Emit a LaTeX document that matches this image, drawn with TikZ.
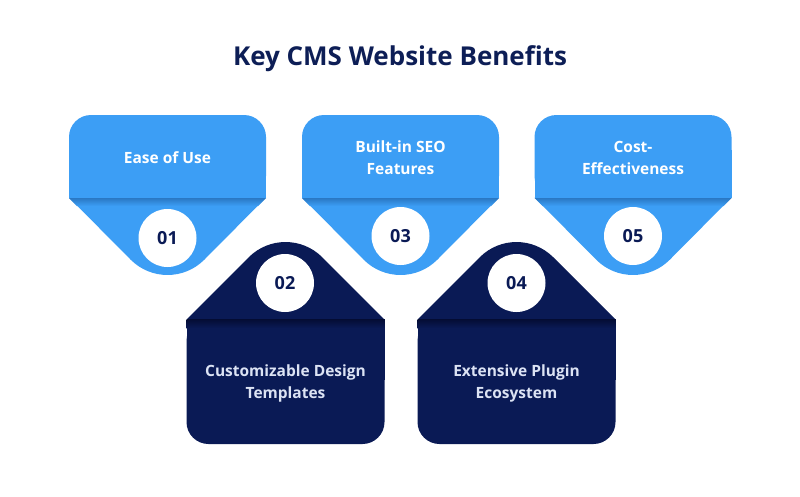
\documentclass[tikz,border=0pt]{standalone}
\usepackage{fontspec}
\setmainfont{Open Sans}
\definecolor{lb}{HTML}{3C9EF5}
\definecolor{lbshade}{HTML}{2A78C4}
\definecolor{navy}{HTML}{0A1A55}
\definecolor{navyshade}{HTML}{040C33}
\definecolor{titlec}{HTML}{0D1E56}
\definecolor{darktext}{HTML}{DCE3F4}
\begin{document}
\begin{tikzpicture}[x=1pt,y=-1pt,
  title/.style={font=\bfseries\fontsize{26}{30}\selectfont, text=titlec},
  lbl/.style={font=\bfseries\fontsize{15.5}{22}\selectfont, align=center, inner sep=0pt},
  lightlbl/.style={lbl, text=white},
  darklbl/.style={lbl, text=darktext},
  numcirc/.style={circle, fill=white, minimum size=58pt, inner sep=0pt, font=\bfseries\fontsize{18}{20}\selectfont, text=navy}
]
\useasboundingbox[fill=white] (0,0) rectangle (800,496);
\node[title] (t) at (400,59) {Key CMS Website Benefits};

% light shapes (pointing down)
\foreach \cx/\nm in {167.5/a,400.5/c,633/e}{
  \fill[lb, rounded corners=22] (\cx-98.5,115) rectangle (\cx+98.5,198);
  \fill[lb] (\cx-98.5,150) rectangle (\cx+98.5,198);
  \fill[lb] (\cx-98.5,197.5) -- (\cx-36.75,259.75)
     .. controls (\cx-16.44,280.06) and (\cx+16.44,280.06) .. (\cx+36.75,259.75)
     -- (\cx+98.5,197.5) -- cycle;
  \shade[top color=lbshade, bottom color=lb] (\cx-98.5,198) -- (\cx+98.5,198) -- (\cx+90.5,206) -- (\cx-90.5,206) -- cycle;
}
% dark shapes (pointing up)
\foreach \cx in {285.5,516.5}{
  \fill[navy, rounded corners=22] (\cx-99,319) rectangle (\cx+99,444);
  \fill[navy] (\cx-99,319) rectangle (\cx+99,380);
  \fill[navy] (\cx-99,319.5) -- (\cx-36.75,257.25)
     .. controls (\cx-16.44,236.94) and (\cx+16.44,236.94) .. (\cx+36.75,257.25)
     -- (\cx+99,319.5) -- cycle;
  \shade[top color=navyshade, bottom color=navy] (\cx-99,319) rectangle (\cx+99,328);
}

\node[numcirc] (n1) at (167.5,238) {01};
\node[numcirc] (n3) at (400.5,236) {03};
\node[numcirc] (n5) at (633,236) {05};
\node[numcirc] (n2) at (285,283) {02};
\node[numcirc] (n4) at (516.5,283) {04};

\node[lightlbl] (l1) at (167.5,158) {Ease of Use};
\node[lightlbl] (l3) at (400.5,158) {Built-in SEO\\Features};
\node[lightlbl] (l5) at (633,158) {Cost-\\Effectiveness};
\node[darklbl] (l2) at (285.5,383.5) {Customizable Design\\Templates};
\node[darklbl] (l4) at (516.5,383.5) {Extensive Plugin\\Ecosystem};
\end{tikzpicture}
\end{document}
